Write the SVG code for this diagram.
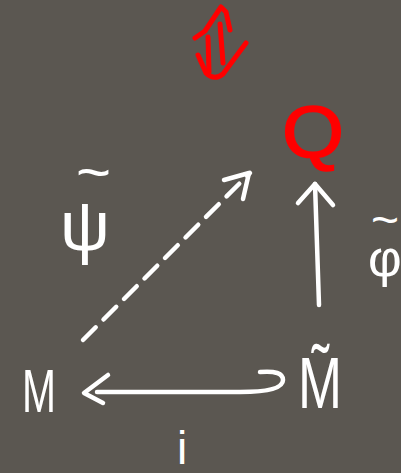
<svg xmlns="http://www.w3.org/2000/svg" width="401" height="473" viewBox="0 0 401 473">
<style>
.w{fill:none;stroke:#ffffff;stroke-width:4.5;stroke-linecap:round;stroke-linejoin:round}
.r{fill:none;stroke:#ff0000;stroke-width:5;stroke-linecap:round;stroke-linejoin:round}
.t{font-family:"Liberation Sans","DejaVu Sans",sans-serif;fill:#ffffff}
.tr{font-family:"Liberation Sans","DejaVu Sans",sans-serif;fill:#ff0000;stroke:#ff0000;stroke-width:1.5}
</style>
<rect width="401" height="473" fill="#5b5751"/>
<g id="equiv">
<path class="r" d="M195,38 L205,31 L221,7 L226,12 L230,30"/>
<path class="r" d="M220,24 L223,63"/>
<path class="r" d="M208,37 L209,72"/>
<path class="r" d="M198,55 L206,73 Q214,81 223,74 L246,43"/>
</g>
<g id="Q"><text class="tr" x="282" y="157" font-size="72" textLength="62" lengthAdjust="spacingAndGlyphs">Q</text></g>
<g id="M"><text class="t" x="22" y="412" font-size="62" textLength="34" lengthAdjust="spacingAndGlyphs">M</text></g>
<g id="Mt"><text class="t" x="298" y="408" font-size="72" textLength="44" lengthAdjust="spacingAndGlyphs">M̃</text></g>
<g id="connectors">
<path class="w" d="M83,340 L250,173" stroke-dasharray="18,11"/>
<path class="w" d="M224,180 L249,173 L243,199"/>
<path class="w" d="M319,305 L315,184"/>
<path class="w" d="M298,203 L315,184 L333,205"/>
<path class="w" d="M97,392 L240,392 Q283,392 283,380 Q283,370 260,372"/>
<path class="w" d="M108,375 L84,393 L103,403"/>
</g>
<g id="labels">
<text class="t"><tspan x="76" y="192" font-size="60">~</tspan><tspan x="60" y="250" font-size="70">ψ</tspan></text>
<text class="t"><tspan x="371" y="236" font-size="48">~</tspan><tspan x="368" y="276" font-size="52">φ</tspan></text>
<text class="t" x="177" y="464" font-size="46">i</text>
</g>
</svg>
